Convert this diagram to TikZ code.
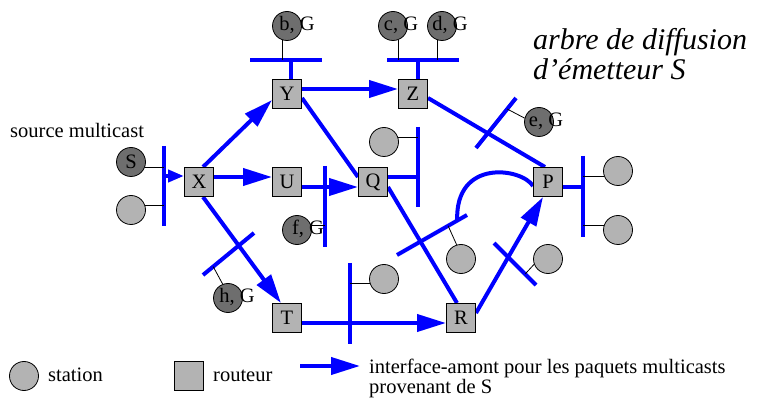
\documentclass[tikz,border=0pt]{standalone}
\usepackage{fontspec}
\setmainfont{Liberation Serif}
\usetikzlibrary{arrows.meta,calc}
\definecolor{rgray}{RGB}{179,179,179}
\definecolor{dgray}{RGB}{110,110,110}
\definecolor{nblue}{RGB}{0,0,255}
\pgfdeclarelayer{bg}
\pgfsetlayers{bg,main}
\tikzset{
 txt/.style={inner sep=0pt, font=\fontsize{20.5}{20.5}\selectfont},
 router/.style={draw=black, line width=1pt, fill=rgray, minimum size=29pt, inner sep=0pt, txt},
 station/.style={circle, draw=black, line width=0.8pt, fill=rgray, minimum size=29pt, inner sep=0pt, txt},
 member/.style={station, fill=dgray},
 link/.style={draw=nblue, line width=4pt},
 upar/.style={link, -{Triangle[length=29pt,width=17pt]}},
 smallar/.style={link, -{Triangle[length=16pt,width=12pt]}},
 tap/.style={draw=black, line width=0.8pt},
}
\begin{document}
\begin{tikzpicture}[x=1pt,y=-1pt]
\useasboundingbox (0,0) rectangle (758,398);
% routers
\node[router] (X) at (199,182) {X};
\node[router] (Y) at (287,94) {Y};
\node[router] (U) at (287,182) {U};
\node[router] (Q) at (373,182) {Q};
\node[router] (Z) at (413,94) {Z};
\node[router] (P) at (548,182) {P};
\node[router] (T) at (287,318) {T};
\node[router] (R) at (461,318) {R};
% stations
\node[member] (S) at (131,162) {S};
\node[station] (L1) at (131,210) {};
\node[member] (b) at (287,26) {};
\node[txt] (bt) at (297,25) {b, G};
\node[member] (c) at (393,26) {};
\node[txt] (ct) at (401,25) {c, G};
\node[member] (d) at (442,26) {};
\node[txt] (dt) at (450,25) {d, G};
\node[member] (e) at (539,122) {};
\node[txt] (et) at (546,121) {e, G};
\node[member] (f) at (297,230) {};
\node[txt] (ft) at (308,229) {f, G};
\node[member] (h) at (228,298) {};
\node[txt] (ht) at (237,297) {h, G};
\node[station] (Q1) at (384,142) {};
\node[station] (R1) at (461,259) {};
\node[station] (R2) at (548,259) {};
\node[station] (P1) at (618,171) {};
\node[station] (P2) at (618,230) {};
\node[station] (T1) at (384,279) {};
% texts
\node[txt, anchor=base west] (src) at (10,138) {source multicast};
\node[inner sep=0pt, anchor=base west, align=left, font=\itshape\fontsize{30}{30}\selectfont] (title) at (533,80) {arbre de diffusion\\d’émetteur S};
% legend
\node[station] (Ls) at (24,376) {};
\node[txt, anchor=base west] (Lst) at (48,381) {station};
\node[router] (Lr) at (189,376) {};
\node[txt, anchor=base west] (Lrt) at (213,381) {routeur};
\coordinate (La1) at (300,366);
\coordinate (La2) at (360,366);
\node[inner sep=0pt, anchor=base west, align=left, font=\fontsize{20.5}{17}\selectfont] (Lat) at (369,393) {interface-amont pour les paquets multicasts\\provenant de S};
% bus and bar coordinates
\coordinate (sb1) at (164,146); \coordinate (sb2) at (164,226);
\coordinate (yb1) at (250,60); \coordinate (yb2) at (322,60);
\coordinate (zb1) at (387,60); \coordinate (zb2) at (459,60);
\coordinate (ub1) at (325,166); \coordinate (ub2) at (325,247);
\coordinate (qb1) at (418,127); \coordinate (qb2) at (418,207);
\coordinate (pb1) at (583,156); \coordinate (pb2) at (583,237);
\coordinate (tb1) at (350,263); \coordinate (tb2) at (350,344);
\coordinate (xt1) at (203,275); \coordinate (xt2) at (254,233);
\coordinate (zp1) at (476,148); \coordinate (zp2) at (516,98);
\coordinate (qr1) at (397,255); \coordinate (qr2) at (467,215);
\coordinate (rp1) at (494,243); \coordinate (rp2) at (536,285);
\coordinate (hT) at ($(xt1)!0.2!(xt2)$);
\coordinate (eT) at ($(zp1)!0.78!(zp2)$);
\coordinate (r1T) at ($(qr1)!0.73!(qr2)$);
\coordinate (cvE) at ($(qr1)!0.86!(qr2)$);
\coordinate (r2T) at ($(rp1)!0.74!(rp2)$);
\begin{pgfonlayer}{bg}
% buses
\draw[link] (sb1) -- (sb2);
\draw[link] (yb1) -- (yb2);
\draw[link] (zb1) -- (zb2);
\draw[link] (ub1) -- (ub2);
\draw[link] (qb1) -- (qb2);
\draw[link] (pb1) -- (pb2);
\draw[link] (tb1) -- (tb2);
\draw[link] (xt1) -- (xt2);
\draw[link] (zp1) -- (zp2);
\draw[link] (qr1) -- (qr2);
\draw[link] (rp1) -- (rp2);
% taps
\draw[tap] (S.-20) -- (S.-20 -| sb1);
\draw[tap] (L1.16) -- (L1.16 -| sb1);
\draw[tap] (b.-110) -- (b.-110 |- yb1);
\draw[tap] (c.-70) -- (c.-70 |- zb1);
\draw[tap] (d.-106) -- (d.-106 |- zb1);
\draw[tap] (f.20) -- (f.20 -| ub1);
\draw[tap] (Q1.20) -- (Q1.20 -| qb1);
\draw[tap] (P1.200) -- (P1.200 -| pb1);
\draw[tap] (P2.164) -- (P2.164 -| pb1);
\draw[tap] (T1.196) -- (T1.196 -| tb1);
\draw[tap] (h.111) -- (hT);
\draw[tap] (e.165) -- (eT);
\draw[tap] (R1.107) -- (r1T);
\draw[tap] (R2.201) -- (r2T);
% router links
\draw[link] ([xshift=4pt]Y.north) -- ([xshift=4pt]Y.north |- yb1);
\draw[link] ([xshift=5pt]Z.north) -- ([xshift=5pt]Z.north |- zb1);
\draw[link] ([yshift=5pt]Q.east) -- ([yshift=5pt]Q.east -| qb1);
\draw[link] ([yshift=-5pt]P.east) -- ([yshift=-5pt]P.east -| pb1);
\draw[link] ([yshift=-4pt]Y.east) -- ([yshift=5pt]Q.west);
\draw[link] ([yshift=-4pt]Z.east) -- ([xshift=-3pt]P.north);
\draw[link] ([yshift=-5pt]Q.east) -- ([xshift=-4pt]R.north);
\draw[link] ([yshift=-4pt]P.west) .. controls (522,168) and (455,158) .. (cvE);
% upstream arrows
\draw[smallar] ([yshift=6pt]X.west -| sb1) -- ([yshift=6pt]X.west);
\draw[upar] ([xshift=4pt]X.north) -- ([yshift=-6pt]Y.west);
\draw[upar] ([yshift=5pt]X.east) -- ([yshift=5pt]U.west);
\draw[upar] ([xshift=4pt]X.south) -- ([xshift=-6pt]T.north);
\draw[upar] ([yshift=5pt]Y.east) -- ([yshift=5pt]Z.west);
\draw[upar] ([yshift=-5pt]U.east) -- ([yshift=-5pt]Q.west);
\draw[upar] ([yshift=-5pt]T.east) -- ([yshift=-5pt]R.west);
\draw[upar] ([yshift=5pt]R.east) -- ([xshift=-5pt]P.south);
\draw[upar] (La1) -- (La2);
\end{pgfonlayer}
\end{tikzpicture}
\end{document}
